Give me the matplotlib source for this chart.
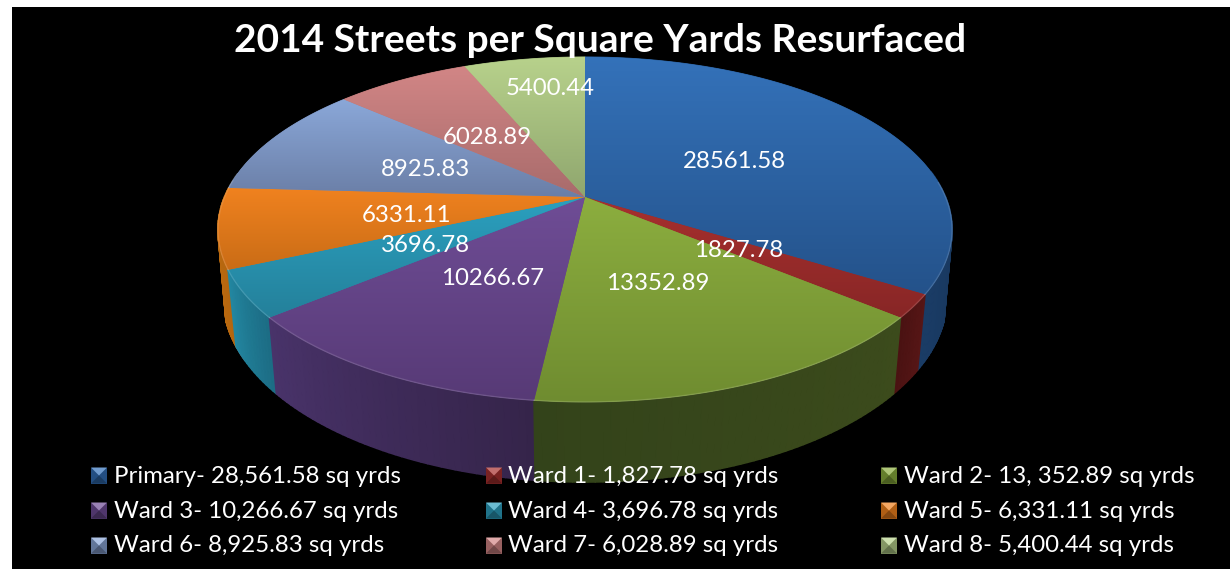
"""2014 street resurfacing chart: a perspective pie drawn by hand on a pixel-sized axes."""
import numpy as np
import matplotlib
matplotlib.use("Agg")
import matplotlib.pyplot as plt
from matplotlib.collections import PolyCollection
from matplotlib.colors import to_rgb
from matplotlib.patches import Polygon, Rectangle

plt.rcParams['font.family'] = ['Lato', 'DejaVu Sans']

TITLE = "2014 Streets per Square Yards Resurfaced"
categories = ["Primary", "Ward 1", "Ward 2", "Ward 3", "Ward 4", "Ward 5", "Ward 6", "Ward 7", "Ward 8"]
values = [28561.58, 1827.78, 13352.89, 10266.67, 3696.78, 6331.11, 8925.83, 6028.89, 5400.44]
legend_labels = [
    "Primary- 28,561.58 sq yrds", "Ward 1- 1,827.78 sq yrds", "Ward 2- 13, 352.89 sq yrds",
    "Ward 3- 10,266.67 sq yrds", "Ward 4- 3,696.78 sq yrds", "Ward 5- 6,331.11 sq yrds",
    "Ward 6- 8,925.83 sq yrds", "Ward 7- 6,028.89 sq yrds", "Ward 8- 5,400.44 sq yrds",
]

# light / dark ends of the vertical gradient on the top face
top_light = ["#3472ba", "#a8302e", "#8cae3f", "#6f4d96", "#2ba0bf", "#f0821f", "#8ba8d9", "#d28686", "#b8d28c"]
top_dark = ["#24528a", "#872626", "#6f8c30", "#573a76", "#24809a", "#c96c16", "#6a7ea6", "#a86b6b", "#8fa66e"]
# side wall colours, first and last end of each slice
wall_start = ["#0f2238", "#571616", "#3c4b1c", "#35244a", "#1c6c84", "#b5660f", "#555555", "#555555", "#555555"]
wall_end = ["#1a3c66", "#4a1212", "#33431a", "#49336a", "#2388a2", "#c4700f", "#555555", "#555555", "#555555"]

# perspective of the top face, in pixels
CX, CY = 585, 197
AX, BY, K = 360.5, 166.4, 0.188
# bottom rim of the wall
BOT_SCALE, BOT_CY, BOT_RX, BOT_RY = 0.978, 297, 362, 185

LABEL_R = 0.495


def project(angle, r=1.0):
    """Clockwise angle from 12 o'clock to pixel position on the top face."""
    x = r * np.sin(angle)
    y = r * np.cos(angle)
    w = 1 + K * y
    return CX + AX * x / w, CY - BY * y / w


def bottom_of(sx):
    """Wall bottom under a rim pixel."""
    bx = CX + (sx - CX) * BOT_SCALE
    by = BOT_CY + BOT_RY * np.sqrt(np.clip(1 - ((bx - CX) / BOT_RX) ** 2, 0, 1))
    return bx, by


def mix(c1, c2, t):
    return tuple(np.array(to_rgb(c1)) * (1 - t) + np.array(to_rgb(c2)) * t)


fig = plt.figure(figsize=(12.3, 5.69), dpi=100, facecolor="white")
ax = fig.add_axes([0, 0, 1, 1])
ax.axis("off")
ax.add_patch(Rectangle((12, 7), 1218, 562, facecolor="black", edgecolor="none", zorder=0))

vals = np.array(values)
edges = np.concatenate([[0], np.cumsum(vals)]) / vals.sum() * 2 * np.pi

# walls first, far strips before near ones
strips = []
for i in range(len(vals)):
    steps = np.arange(edges[i], edges[i + 1], np.radians(1.0))
    steps = np.append(steps, edges[i + 1])
    for a0, a1 in zip(steps[:-1], steps[1:]):
        if np.cos((a0 + a1) / 2) > 0.15:
            continue  # back of the pie, hidden by the top
        x0, y0 = project(a0)
        x1, y1 = project(a1)
        bx0, by0 = bottom_of(x0)
        bx1, by1 = bottom_of(x1)
        t = ((a0 + a1) / 2 - edges[i]) / (edges[i + 1] - edges[i])
        strips.append((np.cos((a0 + a1) / 2), [(x0, y0), (x1, y1), (bx1, by1), (bx0, by0)],
                       mix(wall_start[i], wall_end[i], t)))
strips.sort(key=lambda s: -s[0])
ax.add_collection(PolyCollection([s[1] for s in strips], facecolors=[s[2] for s in strips],
                                 edgecolors=[s[2] for s in strips], linewidths=1.2, zorder=2))

# top face, one gradient per slice
for i in range(len(vals)):
    arc = np.linspace(edges[i], edges[i + 1], 120)
    xs, ys = project(arc)
    pts = np.column_stack([np.append(xs, CX), np.append(ys, CY)])
    # solid underlay so no black shows through along the slice joins
    mid = mix(top_light[i], top_dark[i], 0.5)
    ax.add_patch(Polygon(pts, closed=True, facecolor=mid, edgecolor=mid, lw=0.6, zorder=3))
    poly = Polygon(pts, closed=True, facecolor="none", edgecolor="none", transform=ax.transData)
    ax.add_patch(poly)
    ramp = np.linspace(0, 1, 128)
    grad = np.array([[mix(top_light[i], top_dark[i], t)] for t in ramp])
    im = ax.imshow(grad, extent=(pts[:, 0].min() - 1, pts[:, 0].max() + 1, pts[:, 1].max() + 1, pts[:, 1].min() - 1),
                   aspect="auto", origin="upper", interpolation="bilinear", zorder=3.5)
    im.set_clip_path(poly)
    # soft bevel along the front rim only
    front = np.cos(arc) < 0.1
    ax.plot(xs[front], ys[front], color="white", alpha=0.13, lw=1.0, zorder=4)

ax.set_xlim(0, 1230)
ax.set_ylim(569, 0)

# value labels at the slice middles
label_r = [LABEL_R] * len(vals)
label_r[8] = 0.78  # this one sits out near the rim in the original
label_dx = [0, 0, 0, 0, 0, 0, 0, 0, 14]
mids = (edges[:-1] + edges[1:]) / 2
for i, v in enumerate(values):
    lx, ly = project(mids[i], label_r[i])
    ax.text(lx + label_dx[i], ly + 3, f"{v:.2f}", color="white", fontsize=17.3, ha="center", va="center", zorder=6)

ax.text(600, 40, TITLE, color="white", fontsize=28.0, fontweight="bold", ha="center", va="center", zorder=7)

# legend, three columns of bevelled keys
col_x = [91, 486, 881]
row_y = [475.5, 510.5, 545.5]
KEY = 16
for i, lab in enumerate(legend_labels):
    kx, ky = col_x[i % 3], row_y[i // 3]
    left, right, top, bot = kx, kx + KEY, ky - KEY / 2, ky + KEY / 2
    mid = mix(top_light[i], top_dark[i], 0.5)
    ax.add_patch(Rectangle((left, top), KEY, KEY, facecolor=mix(mid, "black", 0.2), edgecolor="none", zorder=8))
    ax.add_patch(Polygon([(left, top), (right, top), (kx + KEY / 2, ky)], closed=True,
                         facecolor=mix(top_light[i], "white", 0.3), edgecolor="none", zorder=9))
    ax.add_patch(Polygon([(left, bot), (right, bot), (kx + KEY / 2, ky)], closed=True,
                         facecolor=mix(mid, "black", 0.4), edgecolor="none", zorder=9))
    ax.text(kx + 22.5, ky + 0.5, lab, color="white", fontsize=17.3, ha="left", va="center", zorder=10)

fig.savefig("out.png", dpi=100, facecolor=fig.get_facecolor())
